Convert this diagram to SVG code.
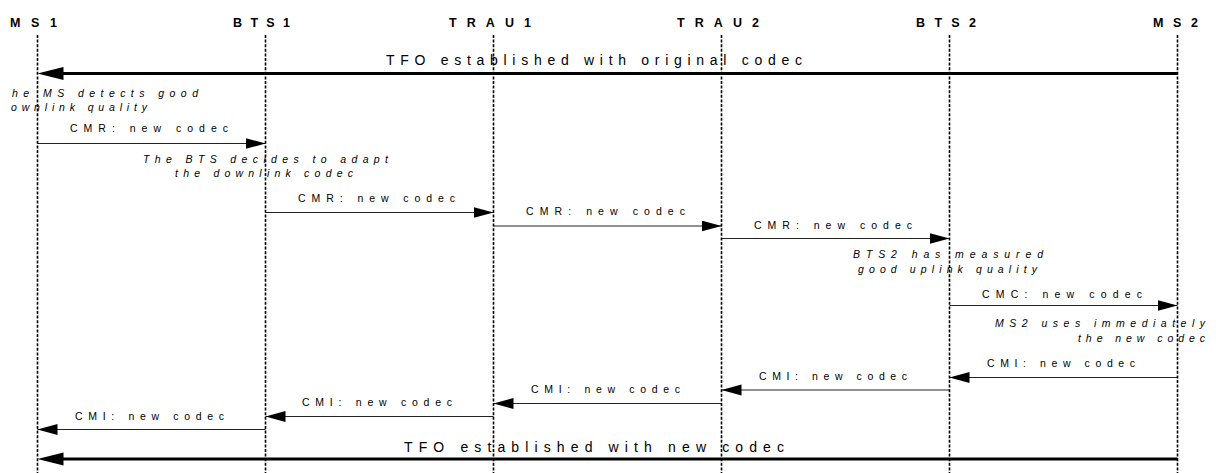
<svg xmlns="http://www.w3.org/2000/svg" width="1216" height="473" viewBox="0 0 1216 473">
<style>
.bg{fill:#ffffff}
.life{stroke:#000;stroke-width:1.6;stroke-dasharray:3,1.6;fill:none}
.head{font-family:"Liberation Sans",Arial,sans-serif;font-weight:bold;font-size:12.5px;fill:#000}
.msg{stroke:#222;stroke-width:1.2;fill:none}
.thick{stroke:#000;stroke-width:3.2;fill:none}
.lbl{font-family:"Liberation Sans",Arial,sans-serif;font-size:10.5px;fill:#000}
.big{font-family:"Liberation Sans",Arial,sans-serif;font-size:14px;fill:#000}
.note{font-family:"Liberation Sans",Arial,sans-serif;font-size:10.5px;font-style:italic;fill:#000}
</style>
<defs>
<marker id="ah" markerUnits="userSpaceOnUse" markerWidth="21" markerHeight="12" refX="20" refY="5.5" orient="auto">
<path d="M0,0 L20,5.5 L0,11 Z" fill="#000"/>
</marker>
<marker id="ahb" markerUnits="userSpaceOnUse" markerWidth="27" markerHeight="14" refX="13" refY="6.5" orient="auto">
<path d="M0,0 L26,6.5 L0,13 Z" fill="#000"/>
</marker>
</defs>
<rect class="bg" x="0" y="0" width="1216" height="473"/>

<g id="connectors">
<line class="thick" x1="1177.5" y1="73.5" x2="50.5" y2="73.5" marker-end="url(#ahb)"/>
<text class="big" x="386" y="65" textLength="416" lengthAdjust="spacing">TFO established with original codec</text>

<line class="msg" x1="37.5" y1="143.5" x2="265.5" y2="143.5" marker-end="url(#ah)"/>
<text class="lbl" x="70" y="131.5" textLength="158" lengthAdjust="spacing">CMR: new codec</text>

<line class="msg" x1="265.5" y1="212.5" x2="493.5" y2="212.5" marker-end="url(#ah)"/>
<text class="lbl" x="298" y="201.5" textLength="157" lengthAdjust="spacing">CMR: new codec</text>

<line class="msg" x1="493.5" y1="226" x2="721.5" y2="226" marker-end="url(#ah)"/>
<text class="lbl" x="526" y="215" textLength="159" lengthAdjust="spacing">CMR: new codec</text>

<line class="msg" x1="721.5" y1="238.5" x2="949.5" y2="238.5" marker-end="url(#ah)"/>
<text class="lbl" x="754" y="228.5" textLength="158" lengthAdjust="spacing">CMR: new codec</text>

<line class="msg" x1="949.5" y1="305.5" x2="1177.5" y2="305.5" marker-end="url(#ah)"/>
<text class="lbl" x="982" y="297.5" textLength="160" lengthAdjust="spacing">CMC: new codec</text>

<line class="msg" x1="1177.5" y1="377.5" x2="949.5" y2="377.5" marker-end="url(#ah)"/>
<text class="lbl" x="987" y="366.5" textLength="148" lengthAdjust="spacing">CMI: new codec</text>

<line class="msg" x1="949.5" y1="390" x2="721.5" y2="390" marker-end="url(#ah)"/>
<text class="lbl" x="759" y="379.5" textLength="148" lengthAdjust="spacing">CMI: new codec</text>

<line class="msg" x1="721.5" y1="403.5" x2="493.5" y2="403.5" marker-end="url(#ah)"/>
<text class="lbl" x="531" y="392.5" textLength="149" lengthAdjust="spacing">CMI: new codec</text>

<line class="msg" x1="493.5" y1="416.5" x2="265.5" y2="416.5" marker-end="url(#ah)"/>
<text class="lbl" x="302" y="406" textLength="150" lengthAdjust="spacing">CMI: new codec</text>

<line class="msg" x1="265.5" y1="429.5" x2="37.5" y2="429.5" marker-end="url(#ah)"/>
<text class="lbl" x="75" y="419.5" textLength="149" lengthAdjust="spacing">CMI: new codec</text>

<line class="thick" x1="1177.5" y1="459" x2="50.5" y2="459" marker-end="url(#ahb)"/>
<text class="big" x="404" y="451.5" textLength="380" lengthAdjust="spacing">TFO established with new codec</text>
</g>

<g id="notes">
<text class="note" x="12" y="97" textLength="186" lengthAdjust="spacing">he MS detects good</text>
<text class="note" x="11" y="111" textLength="136" lengthAdjust="spacing">ownlink quality</text>
<text class="note" x="143" y="162.5" textLength="245" lengthAdjust="spacing">The BTS decides to adapt</text>
<text class="note" x="175" y="176.5" textLength="178" lengthAdjust="spacing">the downlink codec</text>
<text class="note" x="853" y="257.5" textLength="190" lengthAdjust="spacing">BTS2 has measured</text>
<text class="note" x="858" y="272.5" textLength="179" lengthAdjust="spacing">good uplink quality</text>
<text class="note" x="995" y="326.5" textLength="210" lengthAdjust="spacing">MS2  uses immediately</text>
<text class="note" x="1078" y="341.5" textLength="127" lengthAdjust="spacing">the new codec</text>
</g>

<g id="MS1">
<line class="life" x1="37.5" y1="35" x2="37.5" y2="473"/>
<text class="head" x="10" y="27" textLength="47" lengthAdjust="spacing">MS1</text>
</g>
<g id="BTS1">
<line class="life" x1="265.5" y1="35" x2="265.5" y2="473"/>
<text class="head" x="233" y="27" textLength="57" lengthAdjust="spacing">BTS1</text>
</g>
<g id="TRAU1">
<line class="life" x1="493.5" y1="35" x2="493.5" y2="473"/>
<text class="head" x="449" y="27" textLength="82" lengthAdjust="spacing">TRAU1</text>
</g>
<g id="TRAU2">
<line class="life" x1="721.5" y1="35" x2="721.5" y2="473"/>
<text class="head" x="677" y="27" textLength="82" lengthAdjust="spacing">TRAU2</text>
</g>
<g id="BTS2">
<line class="life" x1="949.5" y1="35" x2="949.5" y2="473"/>
<text class="head" x="916" y="27" textLength="60" lengthAdjust="spacing">BTS2</text>
</g>
<g id="MS2">
<line class="life" x1="1177.5" y1="35" x2="1177.5" y2="473"/>
<text class="head" x="1153" y="27" textLength="45" lengthAdjust="spacing">MS2</text>
</g>
</svg>
